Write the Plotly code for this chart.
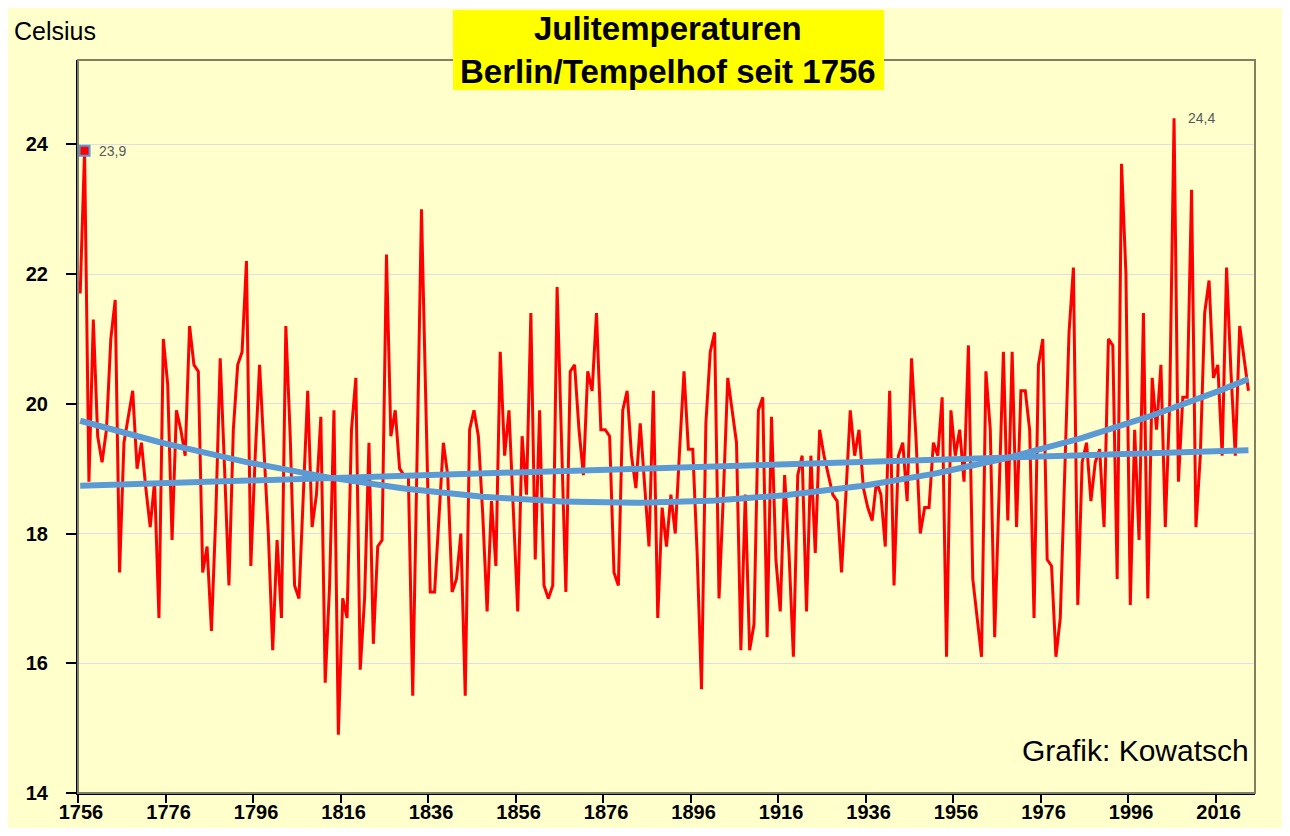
import numpy as np
import plotly.graph_objects as go

# ---------------- data ----------------
years = list(range(1756, 2024))
temps = [
    21.7, 23.9, 18.8, 21.3, 19.5, 19.1, 19.6, 21.0, 21.6, 17.4,   # 1756-1765
    19.4, 19.8, 20.2, 19.0, 19.4, 18.7, 18.1, 18.8, 16.7, 21.0,   # 1766-1775
    20.3, 17.9, 19.9, 19.6, 19.2, 21.2, 20.6, 20.5, 17.4, 17.8,   # 1776-1785
    16.5, 18.3, 20.7, 19.0, 17.2, 19.6, 20.6, 20.8, 22.2, 17.5,   # 1786-1795
    19.2, 20.6, 19.3, 18.0, 16.2, 17.9, 16.7, 21.2, 19.5, 17.2,   # 1796-1805
    17.0, 18.7, 20.2, 18.1, 18.6, 19.8, 15.7, 17.2, 19.9, 14.9,   # 1806-1815
    17.0, 16.7, 19.6, 20.4, 15.9, 17.0, 19.4, 16.3, 17.8, 17.9,   # 1816-1825
    22.3, 19.5, 19.9, 19.0, 18.9, 18.9, 15.5, 19.2, 23.0, 20.0,   # 1826-1835
    17.1, 17.1, 18.3, 19.4, 18.9, 17.1, 17.3, 18.0, 15.5, 19.6,   # 1836-1845
    19.9, 19.5, 18.3, 16.8, 18.5, 17.5, 20.8, 19.2, 19.9, 18.3,   # 1846-1855
    16.8, 19.5, 18.6, 21.4, 17.6, 19.9, 17.2, 17.0, 17.2, 21.8,   # 1856-1865
    19.6, 17.1, 20.5, 20.6, 19.6, 18.9, 20.5, 20.2, 21.4, 19.6,   # 1866-1875
    19.6, 19.5, 17.4, 17.2, 19.9, 20.2, 19.2, 18.7, 19.7, 18.8,   # 1876-1885
    17.8, 20.2, 16.7, 18.4, 17.8, 18.6, 18.0, 19.3, 20.5, 19.3,   # 1886-1895
    19.3, 17.7, 15.6, 19.7, 20.8, 21.1, 17.0, 18.6, 20.4, 19.9,   # 1896-1905
    19.4, 16.2, 18.6, 16.2, 16.6, 19.9, 20.1, 16.4, 19.8, 17.6,   # 1906-1915
    16.8, 18.9, 17.7, 16.1, 18.9, 19.2, 16.8, 19.2, 17.7, 19.6,   # 1916-1925
    19.2, 18.9, 18.6, 18.5, 17.4, 18.6, 19.9, 19.2, 19.6, 18.7,   # 1926-1935
    18.4, 18.2, 18.8, 18.6, 17.8, 20.2, 17.2, 19.2, 19.4, 18.5,   # 1936-1945
    20.7, 19.5, 18.0, 18.4, 18.4, 19.4, 19.2, 20.1, 16.1, 19.9,   # 1946-1955
    19.2, 19.6, 18.8, 20.9, 17.3, 16.7, 16.1, 20.5, 19.6, 16.4,   # 1956-1965
    18.5, 20.8, 18.2, 20.8, 18.1, 20.2, 20.2, 19.6, 16.7, 20.6,   # 1966-1975
    21.0, 17.6, 17.5, 16.1, 16.7, 18.8, 21.1, 22.1, 16.9, 19.1,   # 1976-1985
    19.4, 18.5, 19.1, 19.3, 18.1, 21.0, 20.9, 17.3, 23.7, 22.0,   # 1986-1995
    16.9, 19.6, 17.9, 21.4, 17.0, 20.4, 19.6, 20.6, 18.1, 20.0,   # 1996-2005
    24.4, 18.8, 20.1, 20.1, 23.3, 18.1, 19.2, 21.4, 21.9, 20.4,   # 2006-2015
    20.6, 19.2, 22.1, 20.5, 19.2, 21.2, 20.7, 20.2,               # 2016-2023
]
tick_years = list(range(1756, 2017, 20))
y_ticks = [14, 16, 18, 20, 22, 24]
labelled_years = [1757, 2006]

title_text = "Julitemperaturen<br>Berlin/Tempelhof seit 1756"
unit_text = "Celsius"
credit_text = "Grafik: Kowatsch"

# ---------------- geometry helpers ----------------
# the page body has an 8px margin on every side; the figure is sized so the
# whole page is exactly 1290x836
OFF = 8
W, H = 1290 - 2 * OFF, 836 - 2 * OFF
L, T = 78 - OFF, 60 - OFF
R = W - (1255 - OFF)
B = H - (793 - OFF)
pw, ph = W - L - R, H - T - B


def px(x):  # screen x of the reference -> paper coordinate
    return (x - OFF - L) / pw


def py(y):  # screen y of the reference -> paper coordinate
    return (H - B - (y - OFF)) / ph


YEL = "#FFFFCC"
RED = "#FF0000"
BLUE = "#5B9BD5"
FONT = "Liberation Sans, Arial, sans-serif"

# trend lines fitted to the data (linear and polynomial, as in the original chart)
t = np.array(years) - years[0]
lin = np.polyval(np.polyfit(t, temps, 1), t)
poly = np.polyval(np.polyfit(t, temps, 3), t)

fig = go.Figure()
fig.add_trace(go.Scatter(x=years, y=temps, mode="lines",
                         line=dict(color=RED, width=3), hoverinfo="x+y"))
fig.add_trace(go.Scatter(x=years, y=lin, mode="lines",
                         line=dict(color=BLUE, width=6), hoverinfo="skip"))
fig.add_trace(go.Scatter(x=years, y=poly, mode="lines",
                         line=dict(color=BLUE, width=6), hoverinfo="skip"))
fig.add_trace(go.Scatter(x=[years[1]], y=[temps[1]], mode="markers",
                         marker=dict(symbol="square", size=10, color=RED,
                                     line=dict(color=BLUE, width=2)),
                         hoverinfo="skip"))

annotations = []
for yr in labelled_years:
    v = temps[years.index(yr)]
    annotations.append(dict(
        x=yr, y=v, xref="x", yref="y", text=f"{v:.1f}".replace(".", ","),
        showarrow=False, xanchor="left", yanchor="middle", xshift=12,
        font=dict(family=FONT, size=14, color="#595959")))

annotations += [
    dict(x=px(668), y=py(50), xref="paper", yref="paper", text=title_text,
         showarrow=False, xanchor="center", yanchor="middle",
         font=dict(family=FONT, size=33, color="black", weight="bold")),
    dict(x=px(12), y=py(31), xref="paper", yref="paper", text=unit_text,
         showarrow=False, xanchor="left", yanchor="middle",
         font=dict(family=FONT, size=25, color="black")),
    dict(x=px(1251), y=py(750), xref="paper", yref="paper", text=credit_text,
         showarrow=False, xanchor="right", yanchor="middle",
         font=dict(family=FONT, size=30, color="black")),
]

shapes = [
    # plot area frame
    dict(type="rect", xref="paper", yref="paper", x0=0, x1=1, y0=0, y1=1,
         line=dict(color="#808060", width=2), layer="above"),
    # title box
    dict(type="rect", xref="paper", yref="paper", x0=px(453), x1=px(884), y0=py(90), y1=py(10),
         fillcolor="#FFFF00", line=dict(width=0), layer="above"),
]

fig.update_layout(
    width=W, height=H,
    margin=dict(l=L, r=R, t=T, b=B, pad=0, autoexpand=False),
    paper_bgcolor=YEL, plot_bgcolor=YEL,
    showlegend=False,
    annotations=annotations,
    shapes=shapes,
    xaxis=dict(range=[years[0] - 0.5, 2024.5],
               tickvals=[y - 0.5 for y in tick_years],
               ticktext=[str(y) for y in tick_years],
               ticklabelshift=3, ticklabelstandoff=-8, automargin=False,
               ticks="outside", ticklen=8, tickwidth=1.5, tickcolor="black",
               showline=True, linecolor="black", linewidth=2,
               showgrid=False, zeroline=False,
               tickfont=dict(family=FONT, size=20, color="black", weight="bold")),
    yaxis=dict(range=[14, 25.3], tickvals=y_ticks, automargin=False,
               ticks="outside", ticklen=10, tickwidth=1.5, tickcolor="black",
               ticklabelstandoff=14,
               showline=True, linecolor="black", linewidth=2,
               showgrid=True, gridcolor="#DDDDEA", gridwidth=1, zeroline=False,
               tickfont=dict(family=FONT, size=20, color="black", weight="bold")),
)

fig.write_html("out.html")
